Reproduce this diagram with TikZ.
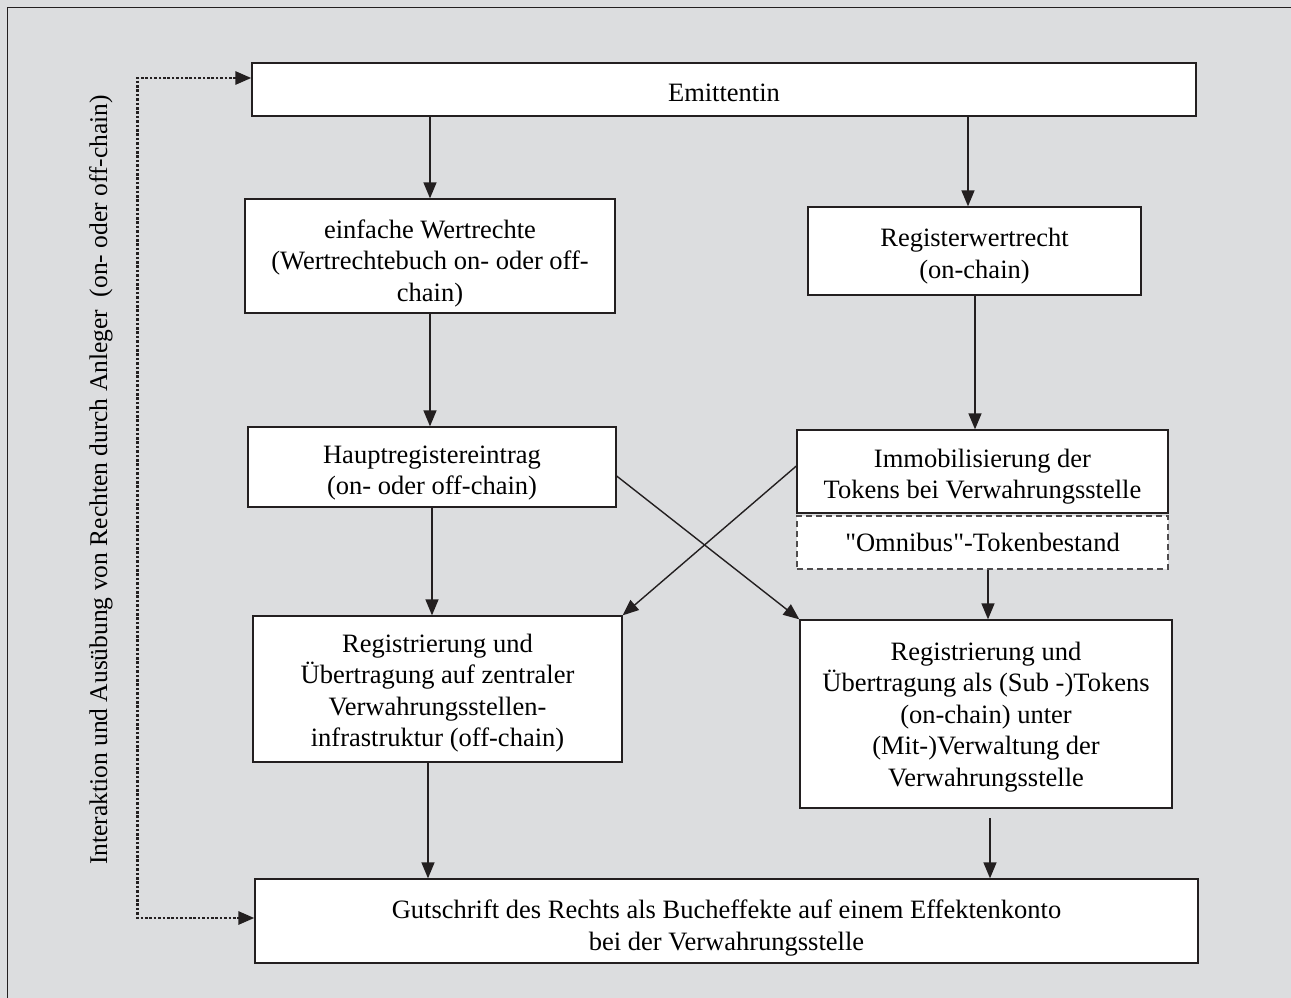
\documentclass[tikz,border=0pt]{standalone}
\usepackage{fontspec}
\setmainfont{Liberation Serif}
\newfontfamily\qfont{Liberation Serif}
\usetikzlibrary{arrows.meta}
\definecolor{bggray}{HTML}{DCDDDF}
\definecolor{linegray}{HTML}{231F20}
\begin{document}
\begin{tikzpicture}[x=1pt,y=-1pt,
  box/.style={draw=linegray,line width=1.3pt,fill=white,inner sep=0pt},
  dbox/.style={box,dash pattern=on 6pt off 4pt,draw=linegray!80},
  txt/.style={align=center,inner sep=0pt,font=\fontsize{26.5}{31.5}\selectfont},
  tip/.tip={Triangle[length=16pt,width=13pt]},
  arr/.style={-tip,line width=1.4pt,draw=linegray},
  darr/.style={tip-tip,line width=2.8pt,draw=linegray,dash pattern=on 2.6pt off 1.8pt}]
\useasboundingbox (0,0) rectangle (1291,998);
\fill[bggray] (0,0) rectangle (1291,998);
\draw[line width=1.5pt,linegray] (7.5,998) -- (7.5,7.5) -- (1291,7.5);
% boxes
\node[box,minimum width=944,minimum height=53] (emi) at (724,89.5) {};
\node[box,minimum width=370,minimum height=114] (einf) at (430,256) {};
\node[box,minimum width=333,minimum height=88] (reg) at (974.5,251) {};
\node[box,minimum width=368,minimum height=80] (haupt) at (432,467) {};
\node[box,minimum width=371,minimum height=83] (immo) at (982.5,471.5) {};
\node[dbox,minimum width=371,minimum height=53] (omni) at (982.5,542.5) {};
\node[box,minimum width=369,minimum height=146] (regl) at (437.5,689) {};
\node[box,minimum width=372,minimum height=188] (regr) at (986,714) {};
\node[box,minimum width=943,minimum height=84] (gut) at (726.5,921) {};
% texts
\node[txt,yshift=-3pt] (temi) at (emi) {Emittentin};
\node[txt,yshift=-7pt] (teinf) at (einf) {einfache Wertrechte\\(Wertrechtebuch on- oder off-\\chain)};
\node[txt,yshift=-5pt] (treg) at (reg) {Registerwertrecht\\(on-chain)};
\node[txt,yshift=-6pt] (thaupt) at (haupt) {Hauptregistereintrag\\(on- oder off-chain)};
\node[txt,yshift=-5pt] (timmo) at (immo) {Immobilisierung der\\Tokens bei Verwahrungsstelle};
\node[txt] (tomni) at (omni) {{\qfont"}Omnibus{\qfont"}-Tokenbestand};
\node[txt,yshift=-4pt] (tregl) at (regl) {Registrierung und\\Übertragung auf zentraler\\Verwahrungsstellen-\\infrastruktur (off-chain)};
\node[txt,yshift=-3pt] (tregr) at (regr) {Registrierung und\\Übertragung als (Sub -)Tokens\\(on-chain) unter\\(Mit-)Verwaltung der\\Verwahrungsstelle};
\node[txt,yshift=-7pt] (tgut) at (gut) {Gutschrift des Rechts als Bucheffekte auf einem Effektenkonto\\bei der Verwahrungsstelle};
\node[rotate=90,font=\fontsize{25.5}{30}\selectfont] (side) at (101,480) {Interaktion und Ausübung von Rechten durch Anleger\ \ (on- oder off-chain)};
% coordinates
\coordinate (c1) at (137.5,78);
\coordinate (c2) at (137.5,918);
% connectors
\coordinate (a1) at (430,0);
\draw[arr] (emi.south -| a1) -- (einf.north -| a1);
\coordinate (a2) at (968,0);
\draw[arr] (emi.south -| a2) -- (reg.north -| a2);
\draw[arr] (einf.south -| a1) -- (haupt.north -| a1);
\coordinate (a6) at (975,0);
\draw[arr] (reg.south -| a6) -- (immo.north -| a6);
\coordinate (a7) at (432,0);
\draw[arr] (haupt.south -| a7) -- (regl.north -| a7);
\draw[arr] (haupt.east |- 0,476) -- (regr.north west);
\draw[arr] (immo.west |- 0,466) -- (regl.north east);
\coordinate (a3) at (988,0);
\draw[arr] (omni.south -| a3) -- (regr.north -| a3);
\coordinate (a4) at (428,0);
\draw[arr] (regl.south -| a4) -- (gut.north -| a4);
\coordinate (a5) at (990,818);
\draw[arr] (a5) -- (a5 |- gut.north);
\draw[darr] (emi.west |- c1) -- (c1) -- (c2) -- (gut.west |- c2);
\end{tikzpicture}
\end{document}
